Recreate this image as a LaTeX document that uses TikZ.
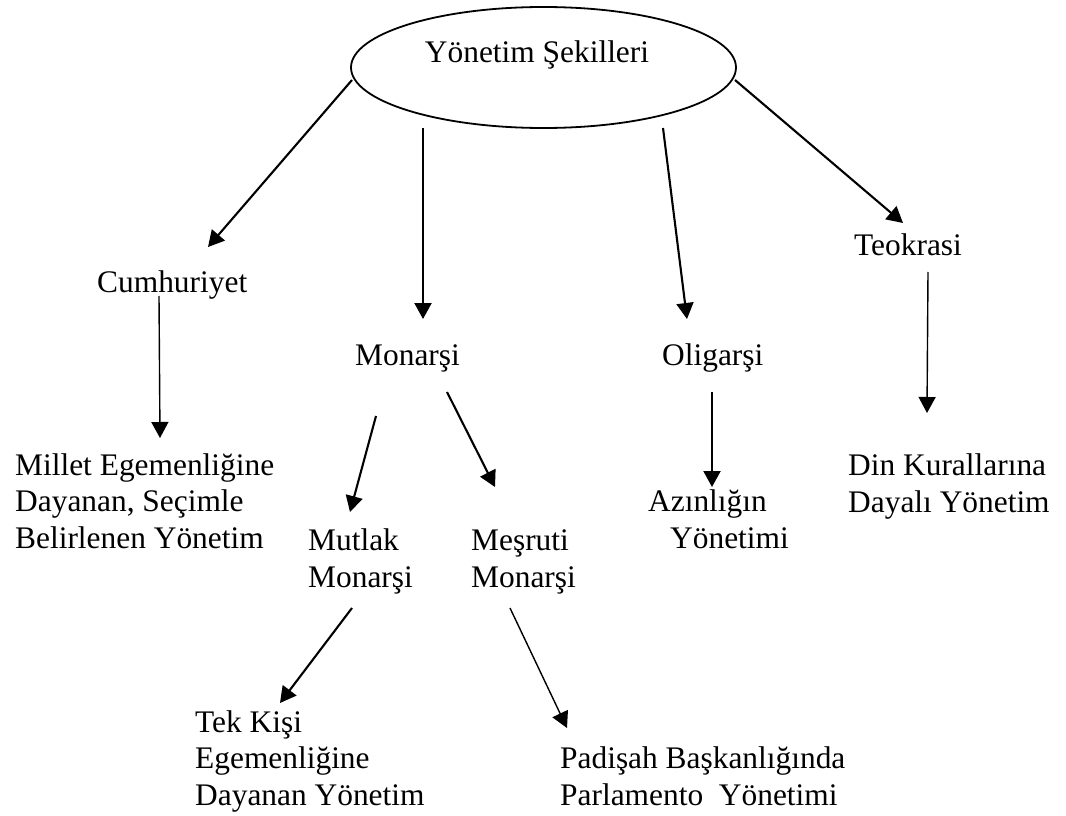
\documentclass[tikz,border=0pt]{standalone}
\usepackage{fontspec}
\setmainfont{Liberation Serif}
\usetikzlibrary{arrows.meta,shapes.geometric}

\begin{document}
\begin{tikzpicture}[x=1pt,y=-1pt,
	lbl/.style={anchor=base west,inner sep=0pt,align=left,font=\fontsize{31.4}{36.5}\selectfont},
	ok/.style={line width=2.1pt,-{Triangle[length=16pt,width=17pt]}},
	okthin/.style={ok,line width=1.4pt}]
			%%%%% START %%%%%
			\useasboundingbox (0,0) rectangle (1066,816);
			
			\node[draw,ellipse,line width=1.8pt,minimum width=385pt,minimum height=121pt] (root) at (543.5,67.5) {};
			\node[lbl,anchor=base] (rootlbl) at (537,63) {Yönetim Şekilleri};
			
			\node[lbl] (cumhuriyet) at (97,292) {Cumhuriyet};
			\node[lbl] (monarsi) at (355,365) {Monarşi};
			\node[lbl] (oligarsi) at (662,365) {Oligarşi};
			\node[lbl] (teokrasi) at (854,255) {Teokrasi};
			
			% multi-line labels sit on their last baseline
			\node[lbl] (millet) at (15,548) {Millet Egemenliğine\\Dayanan, Seçimle\\Belirlenen Yönetim};
			\node[lbl] (mutlak) at (308,587) {Mutlak\\Monarşi};
			\node[lbl] (mesruti) at (471,587) {Meşruti\\Monarşi};
			\node[lbl] (azinlik) at (648,548) {Azınlığın\\\hspace*{22pt}Yönetimi};
			\node[lbl] (din) at (848,512) {Din Kurallarına\\Dayalı Yönetim};
			
			\node[lbl] (tekkisi) at (195,805) {Tek Kişi\\Egemenliğine\\Dayanan Yönetim};
			\node[lbl] (padisah) at (560,805) {Padişah Başkanlığında\\Parlamento\ \ Yönetimi};
			
			% arrow ends
			\coordinate (r1) at (352,80);   \coordinate (cumIn) at (208,247);
			\coordinate (r2) at (423,128);  \coordinate (monIn) at (423,319);
			\coordinate (r3) at (663,128);  \coordinate (oliIn) at (687,319);
			\coordinate (r4) at (735,80);   \coordinate (teoIn) at (903,223);
			\coordinate (cumOut) at (159,296); \coordinate (milIn) at (160,438);
			\coordinate (monOutA) at (376,416); \coordinate (mutIn) at (350,512);
			\coordinate (monOutB) at (447,392); \coordinate (mesIn) at (495,487);
			\coordinate (oliOut) at (712,392); \coordinate (aziIn) at (712,487);
			\coordinate (teoOut) at (928,272); \coordinate (dinIn) at (927,413);
			\coordinate (mutOut) at (352,608); \coordinate (tekIn) at (280,703);
			\coordinate (mesOut) at (510,608); \coordinate (padIn) at (567,728);
			
			\draw[ok] (r1) -- (cumIn);
			\draw[ok] (r2) -- (monIn);
			\draw[ok] (r3) -- (oliIn);
			\draw[ok] (r4) -- (teoIn);
			\draw[okthin] (cumOut) -- (milIn);
			\draw[ok] (monOutA) -- (mutIn);
			\draw[ok] (monOutB) -- (mesIn);
			\draw[ok] (oliOut) -- (aziIn);
			\draw[okthin] (teoOut) -- (dinIn);
			\draw[ok] (mutOut) -- (tekIn);
			\draw[okthin] (mesOut) -- (padIn);
			%%%%% END %%%%%
\end{tikzpicture}
\end{document}
